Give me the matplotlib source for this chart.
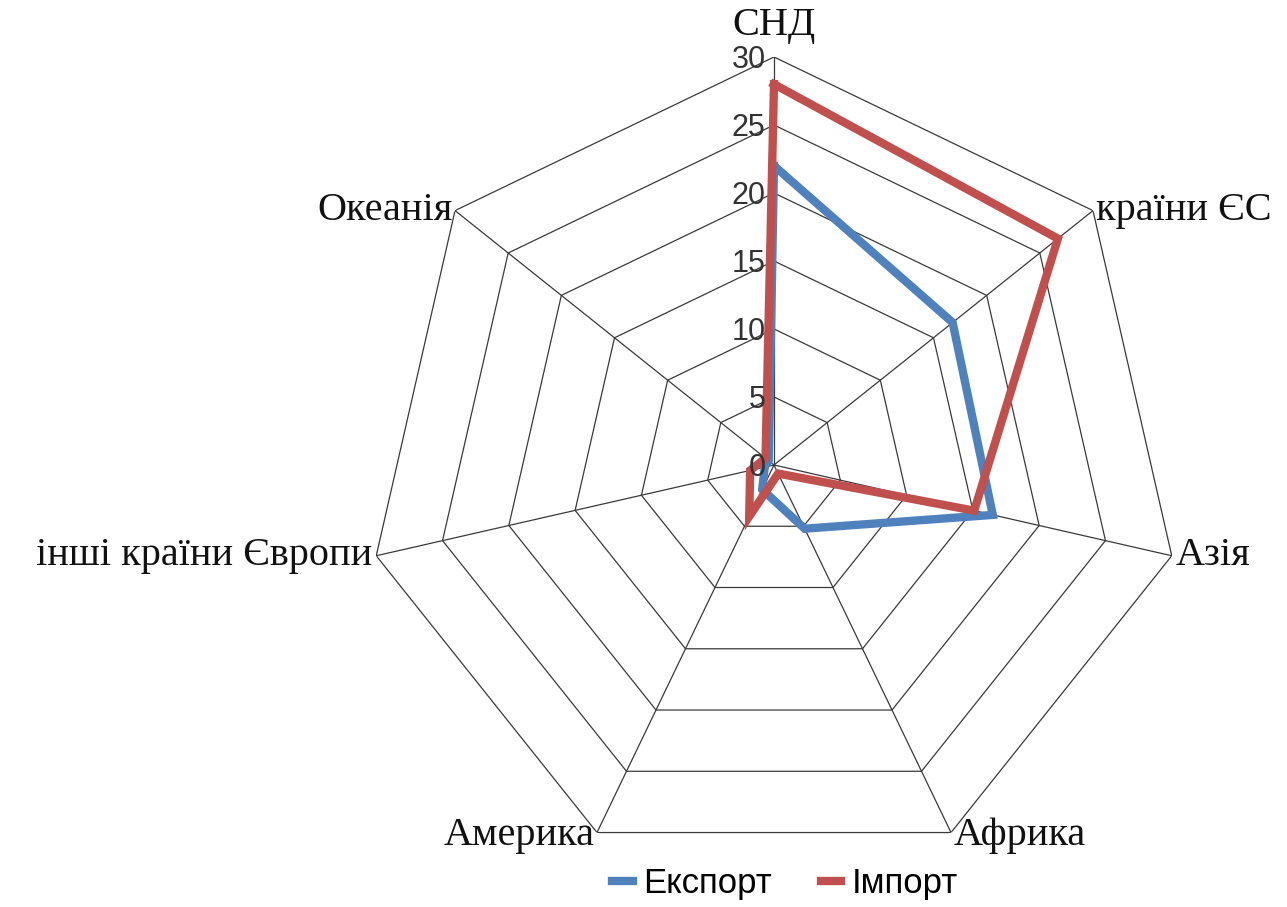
import numpy as np
import matplotlib.pyplot as plt

categories = ['СНД', 'країни ЄС', 'Азія', 'Африка', 'Америка',
              'інші країни Європи', 'Океанія']
export_vals = [22.0, 16.8, 16.5, 5.2, 2.0, 0.7, 0.5]
import_vals = [28.0, 26.7, 15.1, 0.7, 4.2, 1.8, 0.8]
ticks = [0, 5, 10, 15, 20, 25, 30]

blue = '#4F81BD'
red = '#C0504D'
grid_c = '#3a3a3a'

n = len(categories)
theta = np.arange(n) * 2 * np.pi / n
theta_closed = np.append(theta, theta[0])


def closed(vals):
    return np.append(vals, vals[0])


fig = plt.figure(figsize=(12.87, 9.07), dpi=100)
ax = fig.add_axes([0.2844, 0.0375, 0.634, 0.8997], projection='polar')
ax.set_theta_zero_location('N')
ax.set_theta_direction(-1)
ax.set_ylim(0, ticks[-1])
ax.grid(False)
ax.spines['polar'].set_visible(False)
ax.set_xticks([])
ax.set_yticks([])
ax.patch.set_alpha(0)

# polygon grid
for t in ticks[1:]:
    ax.plot(theta_closed, [t] * (n + 1), color=grid_c, lw=0.9, zorder=1)
for th in theta:
    ax.plot([th, th], [0, ticks[-1]], color=grid_c, lw=0.9, zorder=1)

ax.plot(theta_closed, closed(export_vals), color=blue, lw=6, zorder=3,
        solid_joinstyle='miter', label='Експорт')
ax.plot(theta_closed, closed(import_vals), color=red, lw=6, zorder=4,
        solid_joinstyle='miter', label='Імпорт')

# radial tick labels
for t in ticks:
    ax.annotate(str(t), xy=(0, t), xytext=(-6, -2.5), textcoords='offset points',
                ha='right', va='center', fontsize=22, color='#333333',
                family='Liberation Sans', zorder=5)

# category labels
aligns = [('center', 'bottom', (0, 9)),
          ('left', 'center', (2, 0)),
          ('left', 'center', (3, 0)),
          ('left', 'center', (2, -2)),
          ('right', 'center', (-2, -2)),
          ('right', 'center', (-3, 0)),
          ('right', 'center', (-2, 0))]
for th, lab, (ha, va, off) in zip(theta, categories, aligns):
    ax.annotate(lab, xy=(th, ticks[-1]), xytext=off, textcoords='offset points',
                ha=ha, va=va, fontsize=29, family='Liberation Serif',
                color='#111111', annotation_clip=False)

fig.legend(loc='center', bbox_to_anchor=(0.61, 0.026), ncol=2, frameon=False,
           handlelength=0.6, handletextpad=0.3, columnspacing=1.4,
           prop={'family': 'Liberation Sans', 'size': 25})

fig.savefig('out.png', dpi=100)
